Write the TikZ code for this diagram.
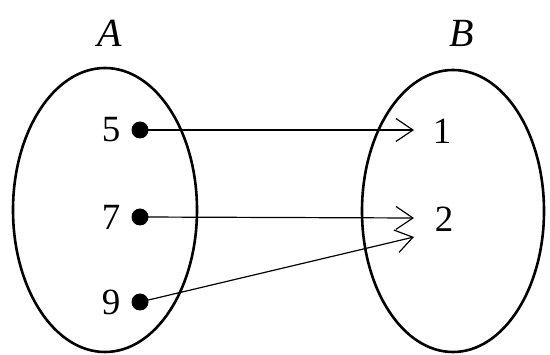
\documentclass[tikz,border=0pt]{standalone}
\usepackage{fontspec}
\setmainfont{Liberation Serif}
\usetikzlibrary{arrows.meta}
\begin{document}
\begin{tikzpicture}[x=1pt,y=-1pt,
  setbox/.style={draw,line width=2.6pt},
  elem/.style={inner sep=0pt,font=\fontsize{37}{42}\selectfont},
  setname/.style={inner sep=0pt,font=\fontsize{40}{44}\selectfont\itshape},
  dotpt/.style={circle,fill,inner sep=0pt,minimum size=17pt},
  maparrow/.style={line width=1.2pt,-{Straight Barb[length=17pt,width=23pt,line width=1.2pt]}}]
\useasboundingbox (0,0) rectangle (550,355);
% sets
\draw[setbox] (105,210) ellipse [x radius=92, y radius=142];
\draw[setbox] (453,211) ellipse [x radius=91, y radius=141];
\node[setname] (A) at (110,33) {A};
\node[setname] (B) at (462,33) {B};
% elements of A
\node[elem] (l5) at (111,130) {5};
\node[elem] (l7) at (111,217) {7};
\node[elem] (l9) at (111,302) {9};
\node[dotpt] (d5) at (140,130) {};
\node[dotpt] (d7) at (140,217) {};
\node[dotpt] (d9) at (140,302) {};
% elements of B
\node[elem] (l1) at (442,131) {1};
\node[elem] (l2) at (444,219) {2};
\coordinate (e1) at (414,130);
\coordinate (e2) at (414,218);
\coordinate (e3) at (414,237);
% mapping
\draw[maparrow] (d5.center) -- (e1);
\draw[maparrow] (d7.center) -- (e2);
\draw[maparrow] (d9.center) -- (e3);
\end{tikzpicture}
\end{document}
